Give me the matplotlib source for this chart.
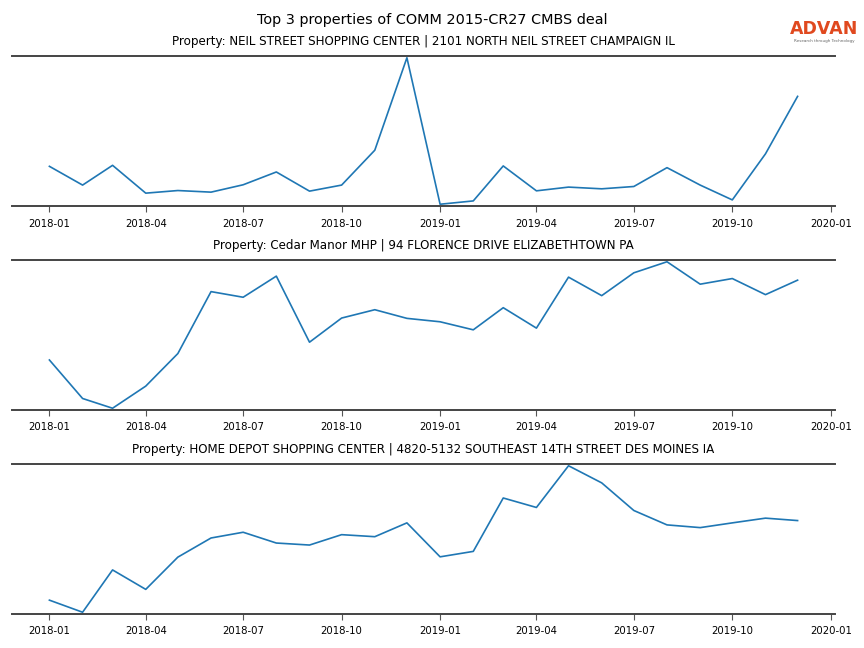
import numpy as np
import pandas as pd
import matplotlib
matplotlib.use("Agg")
import matplotlib.pyplot as plt
import matplotlib.dates as mdates

# meses 2018-01 .. 2019-12
meses = pd.date_range("2018-01-01", "2019-12-01", freq="MS")

titulo = "Top 3 properties of COMM 2015-CR27 CMBS deal"

propiedades = [
    "Property: NEIL STREET SHOPPING CENTER | 2101 NORTH NEIL STREET CHAMPAIGN IL",
    "Property: Cedar Manor MHP | 94 FLORENCE DRIVE ELIZABETHTOWN PA",
    "Property: HOME DEPOT SHOPPING CENTER | 4820-5132 SOUTHEAST 14TH STREET DES MOINES IA",
]

# valores (escala arbitraria)
neil_street = [39.0, 20.4, 40.0, 12.4, 15.0, 13.4, 20.7, 33.4, 14.4, 20.4,
               55.0, 146.7, 1.4, 4.7, 39.4, 14.7, 18.4, 16.7, 19.0, 37.7,
               20.4, 5.7, 51.4, 108.4]
cedar_manor = [49.3, 11.0, 1.3, 23.3, 55.7, 117.3, 111.7, 132.7, 67.0, 91.0,
               99.3, 90.7, 87.3, 79.3, 101.3, 81.0, 131.7, 113.3, 136.0, 147.0,
               124.7, 130.3, 114.3, 128.7]
home_depot = [14.3, 2.3, 44.3, 25.0, 57.0, 76.0, 81.7, 71.0, 69.0, 79.3,
              77.3, 91.0, 57.3, 62.7, 115.7, 106.3, 147.7, 130.7, 103.3, 89.0,
              86.3, 91.0, 95.7, 93.3]

series = [neil_street, cedar_manor, home_depot]

fig = plt.figure(figsize=(8.64, 6.48), dpi=100)
fig.suptitle(titulo, fontsize=10.4, y=0.98)

# posiciones de los ejes (en fraccion de figura)
izq, ancho, alto = 12/864, 823/864, 150/648
tops = [56, 260, 464]

for i, (valores, nombre) in enumerate(zip(series, propiedades)):
    ax = fig.add_axes([izq, 1 - (tops[i] + 150)/648, ancho, alto])
    ax.plot(meses, valores, color="tab:blue", lw=1.2)
    ax.set_title(nombre, fontsize=8.6, pad=8)
    ax.margins(y=0.012)
    ax.set_yticks([])
    for lado in ["left", "right"]:
        ax.spines[lado].set_visible(False)
    for lado in ["top", "bottom"]:
        ax.spines[lado].set_color("#444444")
        ax.spines[lado].set_linewidth(1.4)
    ax.xaxis.set_major_locator(mdates.MonthLocator(bymonth=[1, 4, 7, 10]))
    ax.xaxis.set_major_formatter(mdates.DateFormatter("%Y-%m"))
    ax.tick_params(axis="x", labelsize=7.3, length=4, color="#555555", pad=5)

# logo
fig.text(824/864, 1 - 34/648, "ADVAN", fontsize=12.5, fontweight="bold", color="#E0491F",
         ha="center", va="baseline")
fig.text(824/864, 1 - 39/648, "Research through Technology", fontsize=3, color="#666666",
         ha="center", va="top")

fig.savefig("out.png", dpi=100)
